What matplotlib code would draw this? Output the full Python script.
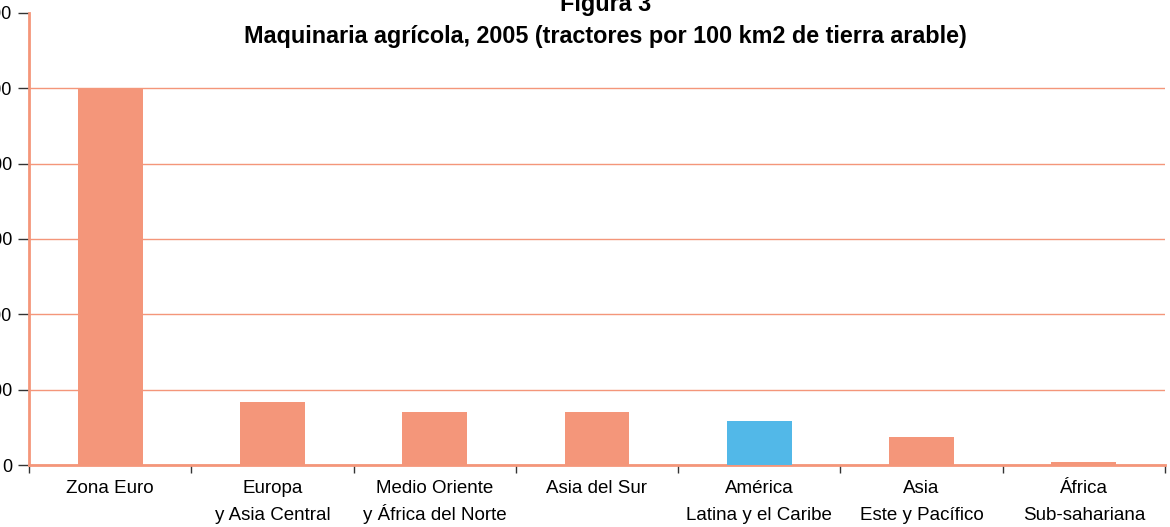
import matplotlib
matplotlib.use("Agg")
import matplotlib.pyplot as plt
import matplotlib.transforms as mtransforms

categories = ["Zona Euro", "Europa\ny Asia Central", "Medio Oriente\ny África del Norte",
              "Asia del Sur", "América\nLatina y el Caribe", "Asia\nEste y Pacífico",
              "África\nSub-sahariana"]
values = [1000, 167, 141, 141, 117, 74, 8]
colors = ["#F4967A", "#F4967A", "#F4967A", "#F4967A", "#52B8E8", "#F4967A", "#F4967A"]
yticks = [0, 200, 400, 600, 800, 1000, 1200]

salmon = "#F4967A"
plt.rcParams['font.family'] = ['Liberation Sans', 'DejaVu Sans']

W, H = 1170, 527
fig = plt.figure(figsize=(W/100, H/100), dpi=100)
ax_h = 465 - 13
ax = fig.add_axes([29/W, 1-465/H, (1165-29)/W, ax_h/H])

x = list(range(len(categories)))
ax.bar(x, values, width=0.4, color=colors, zorder=3)
ax.set_xlim(-0.5, len(categories)-0.5)
ax.set_ylim(0, 1200)
ax.set_yticks(yticks)
ax.set_yticklabels([str(v) for v in yticks], fontsize=13)
ax.yaxis.grid(True, color=salmon, linewidth=1, zorder=0)
ax.yaxis.get_gridlines()[-1].set_visible(False)
ax.set_axisbelow(True)

ax.set_xticks(x)
ax.set_xticklabels([''] * len(x))
ax.tick_params(axis='x', length=0)
trans = mtransforms.blended_transform_factory(ax.transData, ax.transAxes)
for xi, lab in zip(x, categories):
    for k, line in enumerate(lab.split("\n")):
        ax.text(xi, -(28 + 27*k)/ax_h, line, transform=trans, ha='center', va='baseline',
                fontsize=13.5, clip_on=False)

ax.set_xticks([i-0.5 for i in range(len(categories)+1)], minor=True)
ax.tick_params(axis='x', which='minor', length=6, color='#333333', width=1, direction='out')
ax.tick_params(axis='y', length=8, color='#333333', width=1, pad=4)

for s in ['top', 'right']:
    ax.spines[s].set_visible(False)
ax.spines['left'].set_color(salmon)
ax.spines['left'].set_linewidth(2)
ax.spines['bottom'].set_color(salmon)
ax.spines['bottom'].set_linewidth(2)

fig.text(0.518, 1-5/H, "Figura 3", ha='center', va='center', fontsize=16.8, fontweight='bold')
fig.text(0.517, 1-36/H, "Maquinaria agrícola, 2005 (tractores por 100 km2 de tierra arable)",
         ha='center', va='center', fontsize=16.8, fontweight='bold')

fig.savefig("out.png", dpi=100)
